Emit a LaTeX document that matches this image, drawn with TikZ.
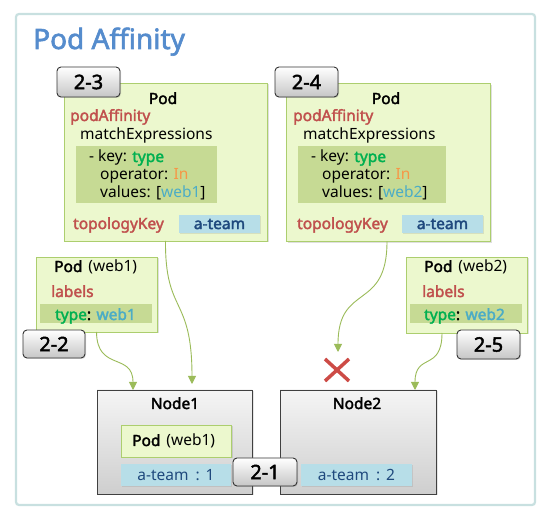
\documentclass[tikz,border=0pt]{standalone}
\usepackage{fontspec}
\setmainfont{Noto Sans}[BoldFont={Noto Sans}, BoldFeatures={FakeBold=2.2}]
\usetikzlibrary{arrows.meta,shadows}
\definecolor{frameC}{RGB}{200,224,224}
\definecolor{titleC}{RGB}{85,140,205}
\definecolor{podFill}{RGB}{236,248,206}
\definecolor{podDraw}{RGB}{172,206,110}
\definecolor{bandFill}{RGB}{198,218,148}
\definecolor{cred}{RGB}{192,80,77}
\definecolor{cgreen}{RGB}{0,176,80}
\definecolor{corange}{RGB}{247,150,70}
\definecolor{caqua}{RGB}{75,172,198}
\definecolor{teamFill}{RGB}{183,222,232}
\definecolor{teamText}{RGB}{31,73,125}
\definecolor{arrowC}{RGB}{155,187,89}
\definecolor{xC}{RGB}{205,75,70}
\tikzset{
  box/.style={inner sep=0pt, outer sep=0pt},
  podbox/.style={box, fill=podFill, draw=podDraw, line width=0.8pt,
    drop shadow={shadow xshift=1.5pt, shadow yshift=-1.5pt, opacity=0.25}},
  bandbox/.style={box, fill=bandFill},
  teambox/.style={box, fill=teamFill, text=teamText,
    font=\fontsize{15.5}{18}\selectfont,
    drop shadow={shadow xshift=1pt, shadow yshift=-1pt, opacity=0.2}},
  nodebox/.style={box, top color=gray!8, bottom color=gray!38, draw=black!75, line width=0.9pt,
    drop shadow={shadow xshift=1.5pt, shadow yshift=-1.5pt, opacity=0.2}},
  badge/.style={box, rounded corners=4pt, top color=white, bottom color=gray!45,
    draw=black!80, line width=0.9pt, font=\fontsize{20}{24}\selectfont\bfseries,
    drop shadow={shadow xshift=1pt, shadow yshift=-1pt, opacity=0.25}},
  txt/.style={anchor=base west, inner sep=0pt, font=\fontsize{15.5}{18}\selectfont},
  ctxt/.style={anchor=base, inner sep=0pt, font=\fontsize{15.5}{18}\selectfont},
  arr/.style={draw=arrowC, line width=0.9pt, -{Triangle[width=8pt,length=8pt]}},
}
\begin{document}
\begin{tikzpicture}[x=1pt,y=-1pt]
\useasboundingbox (0,0) rectangle (555,526);
\fill[white] (0,0) rectangle (555,526);
% frame
\draw[frameC, line width=2.2pt, rounded corners=3pt, fill=white] (16,14) rectangle (535,505);
\node[anchor=base west, inner sep=0pt, text=titleC, font=\fontsize{28}{33}\selectfont\bfseries] (title) at (33,49) {Pod Affinity};

% Pod 1 (2-3)
\node[podbox, minimum width=203pt, minimum height=158pt] (pod1) at (165.5,162) {};
\node[bandbox, minimum width=141pt, minimum height=57pt] (band1) at (146.5,174.5) {};
\node[teambox, minimum width=81pt, minimum height=18pt] (team1) at (219.5,224) {\bfseries a-team};
\node[ctxt, font=\fontsize{15.5}{18}\selectfont\bfseries] (p1pod) at (163,104) {Pod};
\node[txt, text=cred, font=\fontsize{15.5}{18}\selectfont\bfseries] (p1aff) at (70,121) {podAffinity};
\node[txt] (p1match) at (80,140) {matchExpressions};
\node[txt] (p1key) at (89,162) {-\hspace{4pt}key: \textcolor{cgreen}{\bfseries type}};
\node[txt] (p1op) at (100,180) {operator: \textcolor{corange}{In}};
\node[txt] (p1val) at (100,198) {values: [\textcolor{caqua}{web1}]};
\node[txt, text=cred, font=\fontsize{15.5}{18}\selectfont\bfseries] (p1topo) at (73,229) {topologyKey};

% Pod 2 (2-4)
\node[podbox, minimum width=204pt, minimum height=158pt] (pod2) at (388,162.5) {};
\node[bandbox, minimum width=148pt, minimum height=57pt] (band2) at (372,174.5) {};
\node[teambox, minimum width=81pt, minimum height=18pt] (team2) at (442.5,224) {\bfseries a-team};
\node[ctxt, font=\fontsize{15.5}{18}\selectfont\bfseries] (p2pod) at (386,104) {Pod};
\node[txt, text=cred, font=\fontsize{15.5}{18}\selectfont\bfseries] (p2aff) at (293,121) {podAffinity};
\node[txt] (p2match) at (303,140) {matchExpressions};
\node[txt] (p2key) at (311,162) {-\hspace{4pt}key: \textcolor{cgreen}{\bfseries type}};
\node[txt] (p2op) at (322,180) {operator: \textcolor{corange}{In}};
\node[txt] (p2val) at (322,198) {values: [\textcolor{caqua}{web2}]};
\node[txt, text=cred, font=\fontsize{15.5}{18}\selectfont\bfseries] (p2topo) at (297,229) {topologyKey};

% Pod (web1)
\node[podbox, minimum width=121pt, minimum height=75pt] (podw1) at (96.5,294.5) {};
\node[bandbox, minimum width=112pt, minimum height=19pt] (bandw1) at (96,313.5) {};
\node[txt] (w1title) at (54,272) {\textbf{Pod}\hspace{6pt}(web1)};
\node[txt, text=cred, font=\fontsize{15.5}{18}\selectfont\bfseries] (w1lab) at (51,297) {labels};
\node[txt] (w1type) at (55,320) {\textcolor{cgreen}{\bfseries type}\textbf{:} \textcolor{caqua}{\bfseries web1}};

% Pod (web2)
\node[podbox, minimum width=121pt, minimum height=76pt] (podw2) at (466.5,295) {};
\node[bandbox, minimum width=112pt, minimum height=19pt] (bandw2) at (466,313.5) {};
\node[txt] (w2title) at (424,272) {\textbf{Pod}\hspace{6pt}(web2)};
\node[txt, text=cred, font=\fontsize{15.5}{18}\selectfont\bfseries] (w2lab) at (422,297) {labels};
\node[txt] (w2type) at (424,320) {\textcolor{cgreen}{\bfseries type}\textbf{:} \textcolor{caqua}{\bfseries web2}};

% Node1
\node[nodebox, minimum width=155pt, minimum height=104pt] (node1) at (174.5,442) {};
\node[ctxt, font=\fontsize{15.5}{18}\selectfont\bfseries] (n1title) at (175,409) {Node1};
\node[podbox, minimum width=110pt, minimum height=32pt] (n1pod) at (176,441) {};
\node[txt] (n1podtxt) at (132,446) {\textbf{Pod}\hspace{6pt}(web1)};
\node[teambox, minimum width=110pt, minimum height=22pt] (n1team) at (176,475) {a-team\hspace{7pt}:\hspace{6pt}1};

% Node2
\node[nodebox, minimum width=156pt, minimum height=104pt] (node2) at (358,442) {};
\node[ctxt, font=\fontsize{15.5}{18}\selectfont\bfseries] (n2title) at (357,409) {Node2};
\node[teambox, minimum width=111pt, minimum height=22pt] (n2team) at (356.5,475) {a-team\hspace{7pt}:\hspace{6pt}2};

% arrows
\coordinate (t1) at (192,384);
\coordinate (t3) at (338,352);
\path[arr] (pod1.south) .. controls (165,315) and (192,295) .. (t1);
\path[arr] (podw1.south) .. controls (97,372) and (133,352) .. ([xshift=-41.5pt]node1.north);
\path[arr] ([xshift=-1pt]pod2.south) .. controls (387,312) and (338,282) .. (t3);
\path[arr] ([xshift=-24.5pt]podw2.south) .. controls (442,372) and (415,352) .. ([xshift=57pt]node2.north);

% red cross
\draw[xC, line width=3.5pt] (325,359) -- (349,381) (349,359) -- (325,381);

% badges
\node[badge, minimum width=63pt, minimum height=30pt] (b23) at (88.5,82) {2-3};
\node[badge, minimum width=63pt, minimum height=30pt] (b24) at (306.5,82) {2-4};
\node[badge, minimum width=62pt, minimum height=28pt] (b22) at (54,344) {2-2};
\node[badge, minimum width=63pt, minimum height=29pt] (b25) at (488.5,344.5) {2-5};
\node[badge, minimum width=64pt, minimum height=28pt] (b21) at (265,472) {2-1};
\end{tikzpicture}
\end{document}
